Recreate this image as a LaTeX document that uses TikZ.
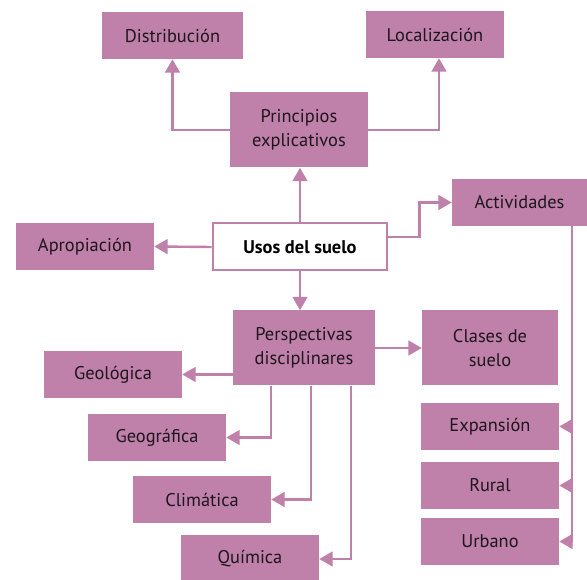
\documentclass[tikz,border=0pt]{standalone}
\usepackage{fontspec}
\setmainfont{PT Sans}
\usetikzlibrary{positioning, arrows.meta}
\definecolor{malva}{RGB}{191,128,169}
\definecolor{tinta}{RGB}{30,22,30}

\begin{document}
\begin{tikzpicture}
                      [x=0.75pt, y=-0.75pt, text centered,
                       caja/.style={fill=malva, text=tinta, minimum width=103.5pt, minimum height=35.25pt,
                                    inner sep=2pt, font=\fontsize{13.8}{18}\selectfont, align=center},
                       arr/.style={-{Triangle[width=11pt,length=10pt]}, draw=malva, line width=1.8pt}]
                      \useasboundingbox (0,0) rectangle (587,580);
                      % nodes %
                      \node[caja, minimum height=56.25pt] (princ) at (299,130) {Principios\\explicativos};
                      \node[caja, minimum width=105.75pt] (dist) at (172.5,35.5) {Distribución};
                      \node[caja] (loc) at (435,34.5) {Localización};
                      \node[caja, fill=white, draw=malva, line width=1.5pt, minimum width=131pt,
                            font=\fontsize{13.8}{18}\selectfont\bfseries, text=black] (usos) at (300,247) {Usos del suelo};
                      \node[caja, minimum width=101.25pt] (activ) at (519.5,202.5) {Actividades};
                      \node[caja] (aprop) at (85,246.5) {Apropiación};
                      \node[caja, minimum width=106.5pt, minimum height=56.25pt] (persp) at (304,348) {Perspectivas\\disciplinares};
                      \node[caja, minimum width=102pt, minimum height=56.25pt] (clases) at (490,348) {Clases de\\suelo};
                      \node[caja] (geol) at (113,374.5) {Geológica};
                      \node[caja] (geog) at (157,437.5) {Geográfica};
                      \node[caja] (clim) at (202,499.5) {Climática};
                      \node[caja] (quim) at (250,559) {Química};
                      \node[caja] (expan) at (490,426.5) {Expansión};
                      \node[caja] (rural) at (490,485.5) {Rural};
                      \node[caja] (urbano) at (490,541.5) {Urbano};

                      % edges %
                      \draw[arr] (princ.west) -| (dist.south);
                      \draw[arr] (princ.east) -| ([xshift=3pt]loc.south);
                      \draw[arr] (usos.north) -- (usos.north|-princ.south);
                      \draw[arr] ([yshift=7.5pt]usos.east) -- ++(23.25pt,0) |- (activ.west);
                      \draw[arr] (usos.west) -- (aprop.east);
                      \draw[arr] (usos.south) -- (usos.south|-persp.north);
                      \draw[arr] (persp.east) -- (clases.west);
                      \draw[arr] (persp.west|-geol.east) -- (geol.east);
                      \draw[arr] ([xshift=-24.75pt]persp.south) |- (geog.east);
                      \draw[arr] ([xshift=5.25pt]persp.south) |- (clim.east);
                      \draw[arr] ([xshift=35.25pt]persp.south) |- (quim.east);
                      \draw[arr] ([xshift=39.4pt]activ.south) |- (expan.east);
                      \draw[arr] ([xshift=39.4pt]activ.south) |- (rural.east);
                      \draw[arr] ([xshift=39.4pt]activ.south) |- (urbano.east);
                    \end{tikzpicture}
\end{document}
